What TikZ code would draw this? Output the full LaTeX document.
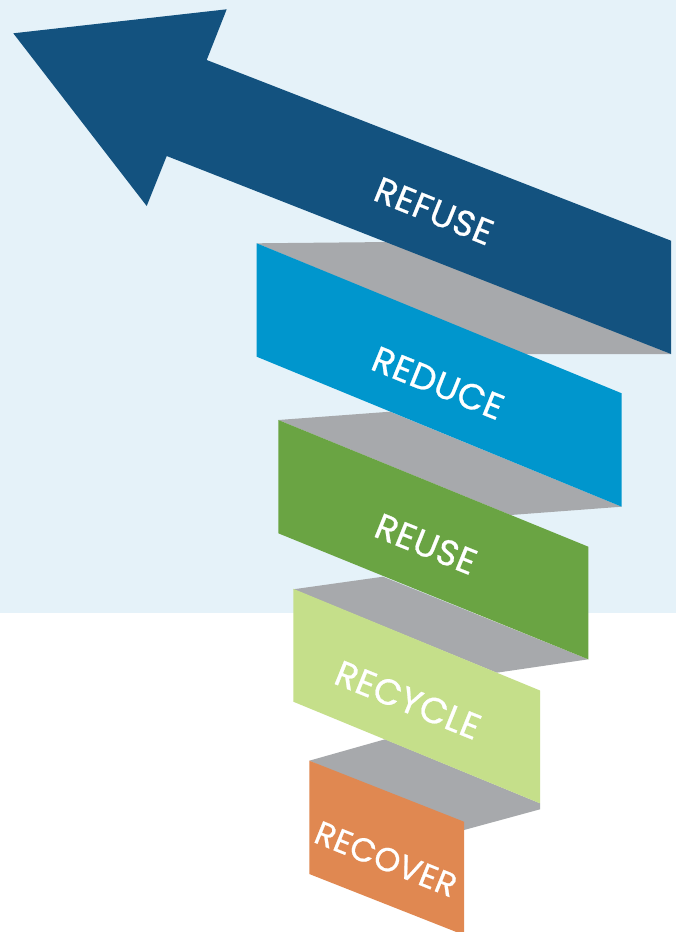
\documentclass[tikz,border=0pt]{standalone}
\usepackage{fontspec}
\newfontfamily\labfont{Poppins}[FakeBold=0.7,LetterSpace=1]
\definecolor{skyback}{HTML}{E5F2F9}
\definecolor{refuseblue}{HTML}{13527F}
\definecolor{reduceblue}{HTML}{0096CD}
\definecolor{reusegreen}{HTML}{6AA443}
\definecolor{recyclegreen}{HTML}{C5DF8A}
\definecolor{recoverorange}{HTML}{E08851}
\definecolor{foldgray}{HTML}{A7A9AC}
\begin{document}
\begin{tikzpicture}[x=1pt,y=-1pt,
  fold/.style={fill=foldgray,draw=none},
  steptext/.style={text=white,inner sep=0pt,rotate=-22,
    font=\labfont\fontsize{36}{36}\selectfont}]
\useasboundingbox (0,0) rectangle (676,932);
\clip (0,0) rectangle (676,932);
% background: pale blue upper field, white lower field
\fill[white] (0,0) rectangle (676,932);
\fill[skyback] (0,0) rectangle (676,612.5);

% grey folds joining the steps
\fill[fold] (256.7,243.3) -- (390,242) -- (671,354) -- (523,354) -- cycle;
\fill[fold] (278.3,420) -- (390,411.7) -- (621.7,506.7) -- (510.7,515) -- cycle;
\fill[fold] (293.3,589.3) -- (383,576.7) -- (588.3,659.3) -- (496.7,672.7) -- cycle;
\fill[fold] (309.3,760.7) -- (385,739.3) -- (540,803.3) -- (540,809.3) -- (464,830) -- cycle;

% top step: the arrow
\fill[refuseblue] (13.3,33.3) -- (226.7,9.3) -- (206.7,60) -- (671,240.7)
  -- (671,354) -- (166.7,156) -- (146.7,206) -- cycle;

% lower steps
\fill[reduceblue] (256.7,243.3) -- (621.7,393.3) -- (621.7,506.7) -- (256.7,356.7) -- cycle;
\fill[reusegreen] (278.3,420) -- (588.3,546.7) -- (588.3,659.3) -- (278.3,533.3) -- cycle;
\fill[recyclegreen] (293.3,588.8) -- (540,690.5) -- (540,803.3) -- (293.3,701.7) -- cycle;
\fill[recoverorange] (309.3,760.7) -- (464,821.7) -- (464,935) -- (309.3,874) -- cycle;

% step labels
\node[steptext] (refuse)  at (434,211) {REFUSE};
\node[steptext] (reduce)  at (438,383) {REDUCE};
\node[steptext] (reuse)   at (426,544) {REUSE};
\node[steptext] (recycle) at (408,700) {RECYCLE};
\node[steptext,font=\labfont\fontsize{33}{33}\selectfont] (recover) at (386,859) {RECOVER};
\end{tikzpicture}
\end{document}
